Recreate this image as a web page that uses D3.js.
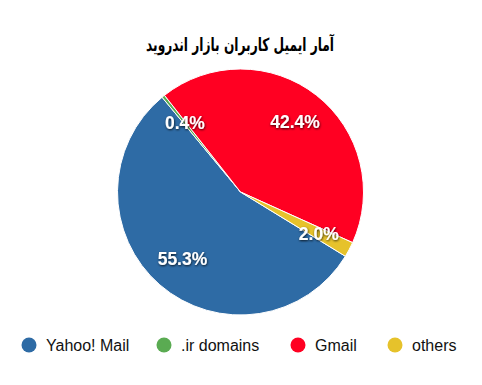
<!DOCTYPE html>
<html>
<head>
<meta charset="utf-8">
<script src="https://cdn.jsdelivr.net/npm/d3@7"></script>
<style>
  body { margin: 0; background: #fff; }
  text { font-family: "Liberation Sans", Arial, sans-serif; }
</style>
</head>
<body>
<div id="chart"></div>
<script>
var categories = ["Yahoo! Mail", ".ir domains", "Gmail", "others"];
var values = [55.3, 0.4, 42.4, 2.0];
var labels = ["55.3%", "0.4%", "42.4%", "2.0%"];
var colors = ["#2e6ba5", "#5aab52", "#ff0022", "#e6c22b"];
var title = "آمار ایمیل کاربران بازار اندروید";

var width = 482, height = 385;
var cx = 240.5, cy = 192, radius = 123;

var svg = d3.select("#chart").append("svg")
    .attr("width", width)
    .attr("height", height);

var defs = svg.append("defs");
var f = defs.append("filter").attr("id", "shadow").attr("x", "-20%").attr("y", "-40%").attr("width", "140%").attr("height", "180%");
f.append("feDropShadow").attr("dx", 0.5).attr("dy", 1).attr("stdDeviation", 1.2)
    .attr("flood-color", "#000").attr("flood-opacity", 0.8);

// title
svg.append("text")
    .attr("x", 240)
    .attr("y", 51)
    .attr("text-anchor", "middle")
    .attr("direction", "rtl")
    .attr("textLength", 188)
    .attr("lengthAdjust", "spacingAndGlyphs")
    .style("font-family", "'DejaVu Sans', sans-serif")
    .style("font-weight", "bold")
    .style("font-size", "18px")
    .text(title);

var pie = d3.pie()
    .sort(null)
    .startAngle(121.5 * Math.PI / 180)
    .endAngle(121.5 * Math.PI / 180 + 2 * Math.PI);

var arc = d3.arc().innerRadius(0).outerRadius(radius);
var labelArc = d3.arc().innerRadius(radius * 0.72).outerRadius(radius * 0.72);

var g = svg.append("g").attr("transform", "translate(" + cx + "," + cy + ")");

var arcs = pie(values);

g.selectAll("path")
    .data(arcs)
    .enter().append("path")
    .attr("d", arc)
    .attr("fill", function(d, i) { return colors[i]; })
    .attr("stroke", "#fff")
    .attr("stroke-width", 1)
    .attr("stroke-linejoin", "round");

g.selectAll(".lbl")
    .data(arcs)
    .enter().append("text")
    .attr("class", "lbl")
    .attr("transform", function(d) { return "translate(" + labelArc.centroid(d) + ")"; })
    .attr("text-anchor", "middle")
    .attr("dy", "0.35em")
    .attr("fill", "#fff")
    .attr("filter", "url(#shadow)")
    .style("font-weight", "bold")
    .style("font-size", "17.5px")
    .text(function(d, i) { return labels[i]; });

// legend
var legendX = [29, 164, 298, 395];
var legend = svg.append("g");
var items = legend.selectAll("g")
    .data(categories)
    .enter().append("g")
    .attr("transform", function(d, i) { return "translate(" + legendX[i] + ",345)"; });

items.append("circle")
    .attr("r", 7.5)
    .attr("fill", function(d, i) { return colors[i]; });

items.append("text")
    .attr("x", 17)
    .attr("dy", "0.35em")
    .style("font-size", "16px")
    .attr("fill", "#111")
    .text(function(d) { return d; });
</script>
</body>
</html>
